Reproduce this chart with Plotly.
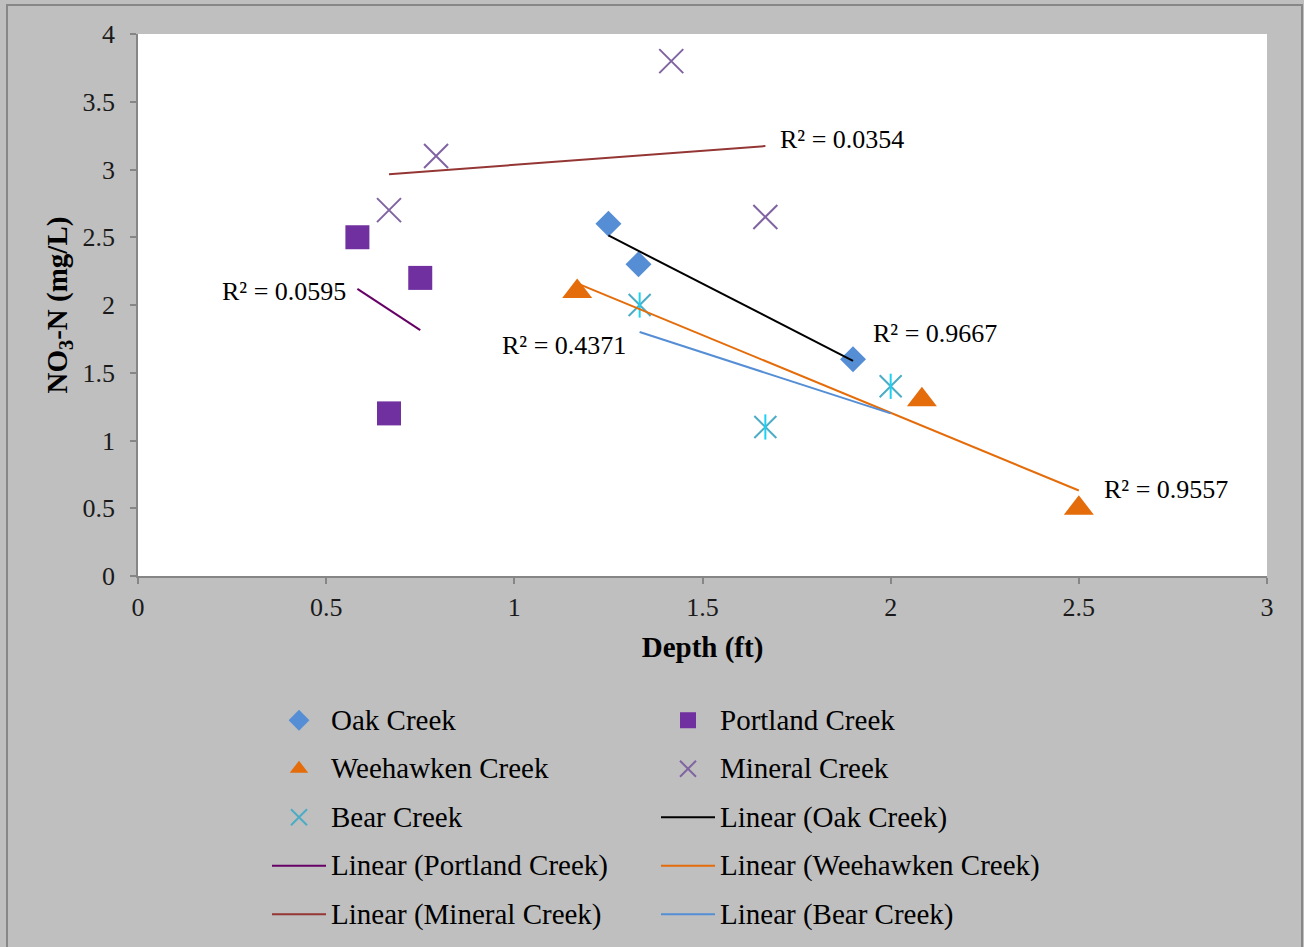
import numpy as np
import plotly.graph_objects as go

# ---------------- data ----------------
oak_x = [1.25, 1.33, 1.9]
oak_y = [2.6, 2.3, 1.6]
portland_x = [0.583, 0.75, 0.667]
portland_y = [2.5, 2.2, 1.2]
weehawken_x = [1.167, 2.083, 2.5]
weehawken_y = [2.1, 1.3, 0.5]
mineral_x = [0.667, 0.792, 1.417, 1.667]
mineral_y = [2.7, 3.1, 3.8, 2.65]
bear_x = [1.333, 2.0, 1.667]
bear_y = [2.0, 1.4, 1.1]

r2_labels = ["R² = 0.9667", "R² = 0.0595", "R² = 0.9557", "R² = 0.0354", "R² = 0.4371"]
r2_pos_x = [1.948, 0.218, 2.562, 1.70, 0.962]
r2_pos_y = [1.79, 2.10, 0.64, 3.22, 1.70]

x_ticks = [0, 0.5, 1, 1.5, 2, 2.5, 3]
y_ticks = [0, 0.5, 1, 1.5, 2, 2.5, 3, 3.5, 4]

# ---------------- style ----------------
FONT = "Liberation Serif, Times New Roman, serif"
LEG_TXT = 29
def lg(name):
    return f"<span style='font-size:{LEG_TXT}px;baseline-shift:4px'>{name}</span>"

series = [
    ("Oak Creek", oak_x, oak_y, dict(symbol="diamond", size=20, color="#558ED5"), "#000000"),
    ("Portland Creek", portland_x, portland_y, dict(symbol="square", size=24, color="#7030A0"), "#660066"),
    ("Weehawken Creek", weehawken_x, weehawken_y, dict(symbol="triangle-up", size=26, color="#E46C0A"), "#E46C0A"),
    ("Mineral Creek", mineral_x, mineral_y,
     dict(symbol="x-thin-open", size=24, color="#8064A2", line=dict(width=2, color="#8064A2")), "#943634"),
    ("Bear Creek", bear_x, bear_y,
     dict(symbol="x-thin-open", size=22, color="#4BACC6", line=dict(width=2, color="#4BACC6")), "#558ED5"),
]

fig = go.Figure()

for name, xs, ys, mk, _ in series:
    fig.add_trace(go.Scatter(x=xs, y=ys, mode="markers", name=lg(name), marker=mk))
    if name == "Bear Creek":
        fig.add_trace(go.Scatter(x=xs, y=ys, mode="markers", showlegend=False, hoverinfo="skip",
                                 marker=dict(symbol="line-ns-open", size=18,
                                             line=dict(width=2, color="#4BACC6"))))

for name, xs, ys, _, lc in series:
    xa = np.array(xs, dtype=float)
    ya = np.array(ys, dtype=float)
    slope, icpt = np.polyfit(xa, ya, 1)
    tx = np.array([xa.min(), xa.max()])
    fig.add_trace(go.Scatter(x=tx, y=slope * tx + icpt, mode="lines",
                             name=lg(f"Linear ({name})"), line=dict(color=lc, width=2)))

for t, ax_, ay_ in zip(r2_labels, r2_pos_x, r2_pos_y):
    fig.add_annotation(x=ax_, y=ay_, xref="x", yref="y", text=t, showarrow=False,
                       xanchor="left", yanchor="middle",
                       font=dict(family=FONT, size=26, color="#000000"))

L, R, T, B = 138, 37, 34, 371
W, H = 1304, 947
pw, ph = W - L - R, H - T - B
bottom_px = T + ph  # pixel row of the x axis

# outer border
fig.add_shape(type="rect", xref="paper", yref="paper",
              x0=(7 - L) / pw, x1=(1302 - L) / pw,
              y0=(bottom_px - 965) / ph, y1=(bottom_px - 5) / ph,
              line=dict(color="#878787", width=2), layer="below")

axis_common = dict(showgrid=False, zeroline=False, showline=True, linecolor="#868686", linewidth=1.5,
                   ticks="outside", ticklen=6, tickcolor="#868686", tickwidth=1.5,
                   tickfont=dict(family=FONT, size=26, color="#1a1a1a"), mirror=False)

fig.update_layout(
    width=W, height=H,
    margin=dict(l=L, r=R, t=T, b=B, autoexpand=False),
    paper_bgcolor="#BFBFBF", plot_bgcolor="#FFFFFF",
    font=dict(family=FONT, color="#000000"),
    xaxis=dict(range=[0, 3], tickvals=x_ticks, ticktext=[f"{v:g}" for v in x_ticks],
               ticklabelstandoff=1,
               title=dict(text="<b>Depth (ft)</b>", font=dict(family=FONT, size=29, color="#000000"), standoff=16),
               **axis_common),
    yaxis=dict(range=[0, 4], tickvals=y_ticks, ticktext=[f"{v:g}" for v in y_ticks],
               ticklabelstandoff=10,
               title=dict(text="<b>NO<sub>3</sub>-N (mg/L)</b>", font=dict(family=FONT, size=29, color="#000000"),
                          standoff=6),
               **axis_common),
    showlegend=True,
    legend=dict(orientation="h", x=(267 - L) / pw, xanchor="left", y=(bottom_px - 691) / ph, yanchor="top",
                bgcolor="rgba(0,0,0,0)", font=dict(family=FONT, size=35, color="#000000"),
                itemwidth=54, entrywidth=320, entrywidthmode="pixels", traceorder="normal",
                itemclick=False),
)

fig.write_html("out.html")
